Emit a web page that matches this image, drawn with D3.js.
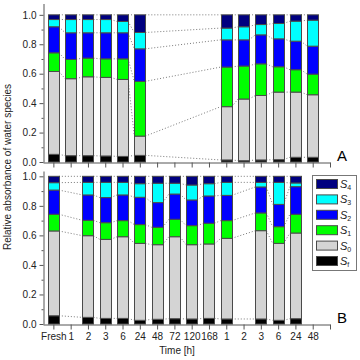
<!DOCTYPE html>
<html><head><meta charset="utf-8">
<script src="https://cdn.jsdelivr.net/npm/d3@7"></script>
<style>body{margin:0;background:#fff}svg{display:block}text{font-family:"Liberation Sans",Arial,sans-serif}</style>
</head><body><svg id="c" width="360" height="360"></svg>
<script>
const categories = ["Fresh","1","2","3","6","24","48","72","120","168","1","2","3","6","24","48"];
const seriesNames = ["Sf","S0","S1","S2","S3","S4"];
const seriesSub = ["f","0","1","2","3","4"];
const seriesColors = ["#000000","#d4d4d4","#00ff00","#0000ff","#00ffff","#000080"];

// Panel A
const idxA = [0,1,2,3,4,5,10,11,12,13,14,15];
const aSf = [0.052,0.043,0.043,0.041,0.038,0.045,0.014,0.009,0.014,0.016,0.032,0.032];
const aS0 = [0.563,0.523,0.536,0.534,0.523,0.131,0.362,0.419,0.438,0.459,0.443,0.425];
const aS1 = [0.127,0.131,0.127,0.126,0.140,0.372,0.269,0.224,0.215,0.172,0.152,0.140];
const aS2 = [0.177,0.181,0.172,0.177,0.177,0.221,0.185,0.178,0.197,0.190,0.194,0.190];
const aS3 = [0.049,0.090,0.090,0.090,0.077,0.111,0.080,0.089,0.070,0.104,0.136,0.177];
const aS4 = [0.032,0.032,0.032,0.032,0.045,0.120,0.090,0.081,0.066,0.059,0.043,0.036];

// Panel B
const idxB = [0,2,3,4,5,6,7,8,9,10,12,13,14];
const bSf = [0.056,0.045,0.038,0.038,0.025,0.032,0.036,0.034,0.038,0.034,0.034,0.025,0.036];
const bS0 = [0.574,0.553,0.535,0.553,0.521,0.505,0.555,0.503,0.504,0.546,0.598,0.521,0.580];
const bS1 = [0.113,0.104,0.113,0.109,0.127,0.118,0.118,0.129,0.140,0.120,0.120,0.113,0.127];
const bS2 = [0.164,0.172,0.170,0.174,0.185,0.167,0.171,0.174,0.185,0.171,0.176,0.151,0.187];
const bS3 = [0.050,0.085,0.103,0.085,0.092,0.131,0.073,0.101,0.083,0.088,0.031,0.149,0.025];
const bS4 = [0.043,0.041,0.041,0.041,0.050,0.047,0.047,0.059,0.050,0.041,0.041,0.041,0.045];

const yTicks = [0,0.2,0.4,0.6,0.8,1.0];
const yMinor = [0.1,0.3,0.5,0.7,0.9];

const svg = d3.select("#c");
const x = d3.scaleLinear().domain([-0.6,16]).range([43,330]);
const bw = 11;

function panel(idx, series, yTop, yBottom, yMax, showLabels, letter){
  const y = d3.scaleLinear().domain([0,yMax]).range([yBottom,yTop]);
  const g = svg.append("g");
  const data = idx.map((ci,k)=>{
    const vals = series.map(s=>s[k]);
    let c=0; const segs = vals.map((v,si)=>{const s={y0:c,y1:c+v,si}; c+=v; return s;});
    return {ci, segs};
  });
  // connectors
  const conn = g.append("g");
  for(let k=0;k<data.length-1;k++){
    const a=data[k], b=data[k+1];
    for(let si=0;si<series.length;si++){
      conn.append("line")
        .attr("x1",x(a.ci)+bw/2).attr("x2",x(b.ci)-bw/2)
        .attr("y1",y(a.segs[si].y1)).attr("y2",y(b.segs[si].y1))
        .attr("stroke","#7a7a7a").attr("stroke-width",1).attr("stroke-dasharray","1,2");
    }
  }
  const bars = g.selectAll("g.bar").data(data).join("g");
  bars.selectAll("rect").data(d=>d.segs.map(s=>({...s,ci:d.ci}))).join("rect")
    .attr("x",d=>Math.round(x(d.ci)-bw/2)+0.5).attr("width",bw)
    .attr("y",d=>y(d.y1)).attr("height",d=>y(d.y0)-y(d.y1))
    .attr("fill",d=>seriesColors[d.si]).attr("stroke","#4a4a4a").attr("stroke-width",1);
  // y axis
  const ya = g.append("g").attr("transform","translate(43.5,0)")
    .call(d3.axisLeft(y).tickValues(yTicks).tickFormat(d3.format(".1f")).tickSize(4).tickSizeOuter(0));
  ya.selectAll("text").attr("font-size",10).attr("fill","#222");
  g.append("g").attr("transform","translate(43.5,0)")
    .call(d3.axisLeft(y).tickValues(yMinor).tickFormat("").tickSize(2).tickSizeOuter(0))
    .select(".domain").remove();
  // x axis
  const xa = g.append("g").attr("transform",`translate(0,${yBottom+0.5})`)
    .call(d3.axisBottom(x).tickValues(d3.range(17)).tickSize(5).tickSizeOuter(0)
      .tickFormat(i=> showLabels && i<categories.length ? categories[i] : ""));
  xa.selectAll("text").attr("font-size",10).attr("fill","#222").attr("dy","0.75em");
  g.selectAll(".domain, .tick line").attr("stroke","#555");
  g.append("text").attr("x",342).attr("y",yBottom-1).attr("font-size",15).attr("text-anchor","middle").text(letter);
}

panel(idxA,[aSf,aS0,aS1,aS2,aS3,aS4],3.5,162,1.077,false,"A");
panel(idxB,[bSf,bS0,bS1,bS2,bS3,bS4],171,324,1.036,true,"B");

svg.append("text").attr("transform","translate(11,167) rotate(-90)").attr("text-anchor","middle")
  .attr("font-size",10).attr("fill","#222").text("Relative absorbance of water species");
svg.append("text").attr("x",177).attr("y",354).attr("text-anchor","middle")
  .attr("font-size",10).attr("fill","#222").text("Time [h]");

// legend
const lg = svg.append("g");
lg.append("rect").attr("x",312.5).attr("y",175.5).attr("width",44).attr("height",95)
  .attr("fill","#fff").attr("stroke","#777");
const order = [5,4,3,2,1,0];
order.forEach((si,k)=>{
  const yy = 179 + k*15.4;
  lg.append("rect").attr("x",316.5).attr("y",yy+0.5).attr("width",21).attr("height",9)
    .attr("fill",seriesColors[si]).attr("stroke","#4a4a4a");
  const t = lg.append("text").attr("x",340).attr("y",yy+9).attr("font-size",11).attr("font-style","italic").attr("fill","#222");
  t.append("tspan").text("S");
  t.append("tspan").attr("font-size",7).attr("dy",2).attr("font-style","normal").text(seriesSub[si]);
});
</script></body></html>
